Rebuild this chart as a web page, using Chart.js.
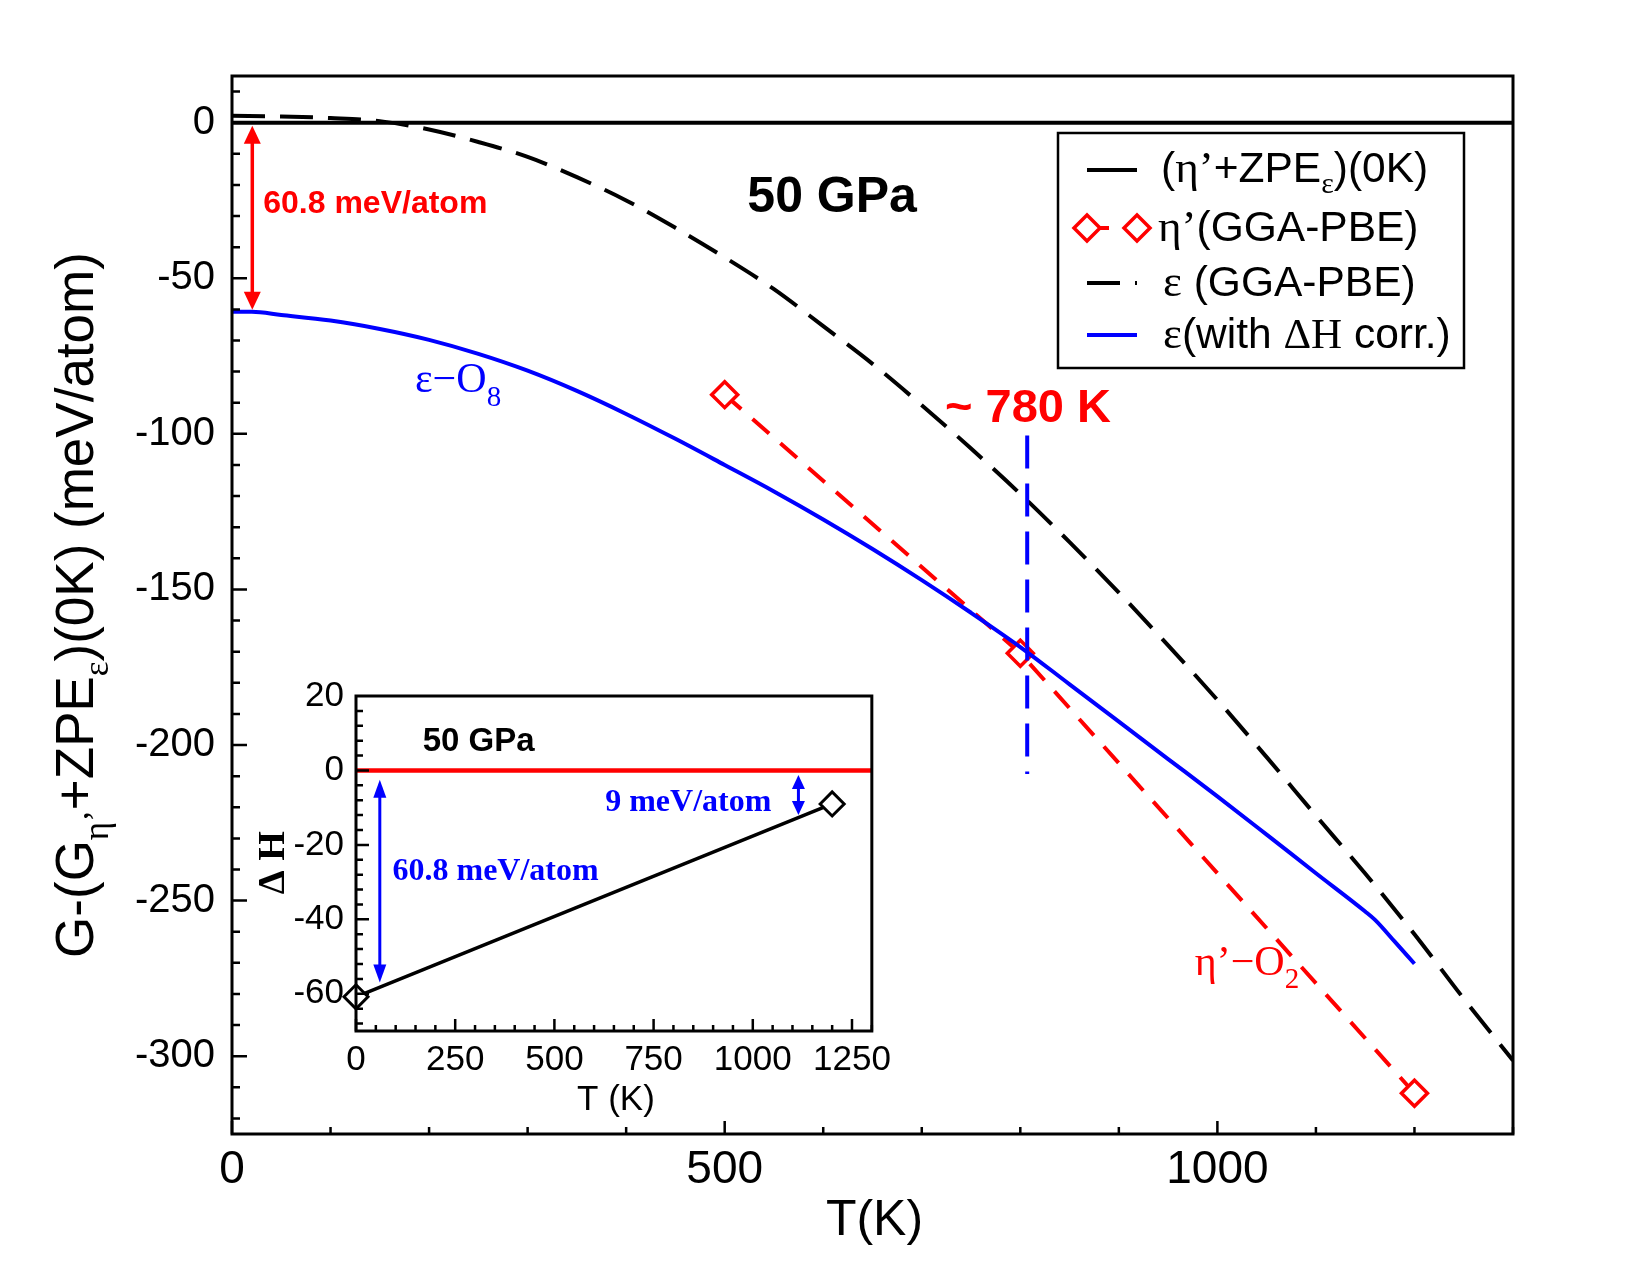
<!DOCTYPE html>
<html>
<head>
<meta charset="utf-8">
<script src="https://cdn.jsdelivr.net/npm/chart.js@4.4.1/dist/chart.umd.min.js"></script>
<style>
  html, body { margin: 0; padding: 0; background: #fff; }
  #wrap { position: relative; width: 1650px; height: 1275px; }
  #main { position: absolute; left: 0; top: 0; }
  #inset { position: absolute; left: 250px; top: 660px; }
</style>
</head>
<body>
<div id="wrap">
  <canvas id="main" width="1650" height="1275"></canvas>
  <canvas id="inset" width="650" height="470"></canvas>
</div>
<script>
// ---- main panel data (T in K, G in meV/atom) ----
const T_ref = [0, 1300];
const G_ref = [0, 0];

const T_eps = [0, 50, 100, 150, 200, 250, 300, 350, 400, 450, 500, 550, 600, 650,
  700, 750, 800, 850, 900, 950, 1000, 1050, 1100, 1150, 1200, 1250, 1300];
const G_eps = [2.2, 2.0, 1.5, 0.5, -2.2, -6.2, -11, -17.5, -25, -33.8, -43.3, -53.5, -65.4, -77.5,
  -90.8, -104.7, -119.3, -134.8, -151, -168, -185.5, -203.9, -222.7, -241.3, -260.8, -281.5, -301.4];

const T_eta = [500, 800, 1200];
const G_eta = [-87.4, -170.5, -311.9];

const T_corr = [0, 20, 50, 100, 150, 200, 250, 300, 350, 400, 450, 500, 550, 600,
  650, 700, 750, 800, 850, 900, 950, 1000, 1050, 1100, 1150, 1160, 1180, 1200];
const G_corr = [-60.8, -60.8, -61.8, -63.6, -66.3, -69.8, -74.3, -79.7, -86.2, -93.6, -101.6, -110, -118.5, -127.5,
  -137, -147, -157.5, -168.5, -180.5, -192.5, -204.5, -216.5, -228.8, -241.2, -253.5, -256.2, -263.2, -270.3];

const T_cross = [807, 807];
const G_cross = [-100.5, -209.3];

const xTicksMain = [0, 500, 1000];
const yTicksMain = [0, -50, -100, -150, -200, -250, -300];

// ---- inset data ----
const T_zeroIn = [0, 1300];
const dH_zero = [0, 0];
const T_dH = [0, 1200];
const dH = [-60.8, -9];

const xTicksInset = [0, 250, 500, 750, 1000, 1250];
const yTicksInset = [20, 0, -20, -40, -60];

const SANS = '"Liberation Sans", Arial, sans-serif';
const SERIF = '"Liberation Serif", "Times New Roman", serif';
const RED = '#ff0000';
const BLUE = '#0000ff';

function pts(xs, ys) {
  return xs.map((x, i) => ({ x: x, y: ys[i] }));
}

// draws a run of text pieces [text, font, dy] one after another
function rich(ctx, parts, x, y, align) {
  let w = 0;
  parts.forEach(p => { ctx.font = p[1]; w += ctx.measureText(p[0]).width; });
  let cx = align === 'center' ? x - w / 2 : x;
  parts.forEach(p => {
    ctx.font = p[1];
    ctx.fillText(p[0], cx, y + (p[2] || 0));
    cx += ctx.measureText(p[0]).width;
  });
}

function vArrow(ctx, x, y1, y2, color, lw, hw, hl) {
  ctx.save();
  ctx.strokeStyle = color; ctx.fillStyle = color; ctx.lineWidth = lw;
  ctx.beginPath(); ctx.moveTo(x, y1 + hl * 0.8); ctx.lineTo(x, y2 - hl * 0.8); ctx.stroke();
  ctx.beginPath(); ctx.moveTo(x, y1); ctx.lineTo(x - hw / 2, y1 + hl); ctx.lineTo(x + hw / 2, y1 + hl); ctx.closePath(); ctx.fill();
  ctx.beginPath(); ctx.moveTo(x, y2); ctx.lineTo(x - hw / 2, y2 - hl); ctx.lineTo(x + hw / 2, y2 - hl); ctx.closePath(); ctx.fill();
  ctx.restore();
}

function diamond(ctx, x, y, r, color, lw) {
  ctx.save();
  ctx.beginPath();
  ctx.moveTo(x - r, y); ctx.lineTo(x, y - r); ctx.lineTo(x + r, y); ctx.lineTo(x, y + r); ctx.closePath();
  ctx.fillStyle = '#fff'; ctx.fill();
  ctx.strokeStyle = color; ctx.lineWidth = lw; ctx.stroke();
  ctx.restore();
}

const noGrid = { display: false, drawTicks: false, tickLength: 0 };

const mainDeco = {
  id: 'mainDeco',
  afterDatasetsDraw(chart) {
    const { ctx, chartArea: a, scales: { x, y } } = chart;
    ctx.save();
    ctx.strokeStyle = '#000';
    ctx.lineWidth = 3;
    ctx.strokeRect(a.left, a.top, a.right - a.left, a.bottom - a.top);

    // inward ticks
    ctx.lineWidth = 2.5;
    ctx.beginPath();
    for (let v = 0; v <= 1300; v += 100) {
      const px = x.getPixelForValue(v);
      const len = v % 500 === 0 ? 13 : 7;
      ctx.moveTo(px, a.bottom); ctx.lineTo(px, a.bottom - len);
    }
    for (let v = -320; v <= 10; v += 10) {
      const py = y.getPixelForValue(v);
      const len = v % 50 === 0 ? 15 : 8;
      ctx.moveTo(a.left, py); ctx.lineTo(a.left + len, py);
    }
    ctx.stroke();

    ctx.textAlign = 'left';
    ctx.textBaseline = 'alphabetic';

    // 60.8 meV/atom arrow
    vArrow(ctx, x.getPixelForValue(20.6), y.getPixelForValue(-1), y.getPixelForValue(-60.1), RED, 3.5, 17, 18);
    ctx.fillStyle = RED;
    ctx.font = 'bold 32px ' + SANS;
    ctx.fillText('60.8 meV/atom', x.getPixelForValue(31.7), y.getPixelForValue(-29.1));

    // 50 GPa
    ctx.fillStyle = '#000';
    ctx.font = 'bold 50px ' + SANS;
    ctx.textAlign = 'center';
    ctx.fillText('50 GPa', x.getPixelForValue(609), y.getPixelForValue(-28.8));
    ctx.textAlign = 'left';

    // ~ 780 K
    ctx.fillStyle = RED;
    ctx.font = 'bold 47px ' + SANS;
    ctx.fillText('~ 780 K', x.getPixelForValue(723.6), y.getPixelForValue(-96.2));

    // curve labels
    ctx.fillStyle = BLUE;
    rich(ctx, [['ε−O', '42px ' + SERIF], ['8', '29px ' + SERIF, 14]],
      x.getPixelForValue(185.7), y.getPixelForValue(-86.4));
    ctx.fillStyle = RED;
    rich(ctx, [['η’−O', '42px ' + SERIF], ['2', '29px ' + SERIF, 13]],
      x.getPixelForValue(977), y.getPixelForValue(-274));

    // legend
    const lx0 = 1087, lx1 = 1137;
    ctx.strokeStyle = '#000';
    ctx.lineWidth = 2.5;
    ctx.strokeRect(1058, 133, 406, 235);
    ctx.fillStyle = '#000';
    ctx.lineWidth = 4;
    ctx.beginPath(); ctx.moveTo(lx0, 170); ctx.lineTo(lx1, 170); ctx.stroke();
    rich(ctx, [['(', '42.5px ' + SANS], ['η’', '45px ' + SERIF], ['+ZPE', '42.5px ' + SANS],
      ['ε', '30px ' + SERIF, 11], [')(0K)', '42.5px ' + SANS]], 1161, 182);

    ctx.strokeStyle = RED;
    ctx.setLineDash([22, 15]);
    ctx.beginPath(); ctx.moveTo(lx0, 228); ctx.lineTo(lx1, 228); ctx.stroke();
    ctx.setLineDash([]);
    diamond(ctx, lx0, 228, 13, RED, 3.5);
    diamond(ctx, lx1, 228, 13, RED, 3.5);
    rich(ctx, [['η’', '45px ' + SERIF], ['(GGA-PBE)', '42.5px ' + SANS]], 1158, 241);

    ctx.strokeStyle = '#000';
    ctx.setLineDash([33, 15]);
    ctx.beginPath(); ctx.moveTo(lx0, 283); ctx.lineTo(lx1, 283); ctx.stroke();
    ctx.setLineDash([]);
    rich(ctx, [['ε', '45px ' + SERIF], [' (GGA-PBE)', '42.5px ' + SANS]], 1163, 296);

    ctx.strokeStyle = BLUE;
    ctx.beginPath(); ctx.moveTo(lx0, 335); ctx.lineTo(lx1, 335); ctx.stroke();
    rich(ctx, [['ε', '45px ' + SERIF], ['(with ', '42.5px ' + SANS], ['ΔH', '43px ' + SERIF],
      [' corr.)', '42.5px ' + SANS]], 1163, 348);

    // axis titles
    ctx.fillStyle = '#000';
    ctx.font = '50px ' + SANS;
    ctx.textAlign = 'center';
    ctx.fillText('T(K)', (a.left + a.right) / 2 + 2, 1235);
    ctx.textAlign = 'left';

    ctx.save();
    ctx.translate(93, (a.top + a.bottom) / 2);
    ctx.rotate(-Math.PI / 2);
    rich(ctx, [['G-(G', '53px ' + SANS], ['η’', '35px ' + SERIF, 15], ['+ZPE', '53px ' + SANS],
      ['ε', '35px ' + SERIF, 15], [')(0K) (meV/atom)', '53px ' + SANS]], 0, 0, 'center');
    ctx.restore();

    ctx.restore();
  }
};

new Chart(document.getElementById('main'), {
  type: 'line',
  data: {
    datasets: [
      { data: pts(T_ref, G_ref), borderColor: '#000', borderWidth: 4, pointRadius: 0, order: 4 },
      { data: pts(T_eps, G_eps), borderColor: '#000', borderWidth: 4, borderDash: [33, 15], pointRadius: 0,
        cubicInterpolationMode: 'monotone', order: 3 },
      { data: pts(T_eta, G_eta), borderColor: RED, borderWidth: 4, borderDash: [22, 15], tension: 0,
        pointStyle: 'rectRot', pointRadius: 13, pointBorderWidth: 3.5, pointBorderColor: RED,
        pointBackgroundColor: '#fff', order: 2 },
      { data: pts(T_cross, G_cross), borderColor: BLUE, borderWidth: 4, borderDash: [33, 15], pointRadius: 0, order: 1 },
      { data: pts(T_corr, G_corr), borderColor: BLUE, borderWidth: 4, pointRadius: 0,
        cubicInterpolationMode: 'monotone', order: 0 }
    ]
  },
  options: {
    responsive: false,
    animation: false,
    devicePixelRatio: 1,
    layout: { padding: { left: 0, top: 76, right: 137, bottom: 0 } },
    plugins: { legend: { display: false }, tooltip: { enabled: false } },
    scales: {
      x: {
        type: 'linear', min: 0, max: 1300,
        grid: noGrid, border: { display: false },
        afterBuildTicks: s => { s.ticks = xTicksMain.map(v => ({ value: v })); },
        afterFit: s => { s.height = 141; },
        ticks: { padding: 9, color: '#000', font: { family: SANS, size: 46 }, callback: v => String(v) }
      },
      y: {
        type: 'linear', min: -325, max: 15,
        grid: noGrid, border: { display: false },
        afterBuildTicks: s => { s.ticks = yTicksMain.map(v => ({ value: v })); },
        afterFit: s => { s.width = 232; },
        ticks: { padding: 17, color: '#000', font: { family: SANS, size: 40 }, callback: v => String(v) }
      }
    }
  },
  plugins: [mainDeco]
});

const insetDeco = {
  id: 'insetDeco',
  afterDatasetsDraw(chart) {
    const { ctx, chartArea: a, scales: { x, y } } = chart;
    ctx.save();
    ctx.strokeStyle = '#000';
    ctx.lineWidth = 3;
    ctx.strokeRect(a.left, a.top, a.right - a.left, a.bottom - a.top);
    ctx.lineWidth = 2.5;
    ctx.beginPath();
    for (let v = 0; v <= 1300; v += 50) {
      const px = x.getPixelForValue(v);
      const len = v % 250 === 0 ? 12 : 6;
      ctx.moveTo(px, a.bottom); ctx.lineTo(px, a.bottom - len);
    }
    for (let v = -68; v <= 16; v += 4) {
      const py = y.getPixelForValue(v);
      const len = v % 20 === 0 ? 13 : 7;
      ctx.moveTo(a.left, py); ctx.lineTo(a.left + len, py);
    }
    ctx.stroke();

    ctx.textAlign = 'left';
    ctx.textBaseline = 'alphabetic';
    ctx.fillStyle = '#000';
    ctx.font = 'bold 33px ' + SANS;
    ctx.fillText('50 GPa', x.getPixelForValue(168), y.getPixelForValue(5.1));

    vArrow(ctx, x.getPixelForValue(60), y.getPixelForValue(-2.5), y.getPixelForValue(-57), BLUE, 3, 13, 18);
    vArrow(ctx, x.getPixelForValue(1115), y.getPixelForValue(-1.2), y.getPixelForValue(-12), BLUE, 3, 13, 14);

    ctx.fillStyle = BLUE;
    ctx.font = 'bold 32px ' + SERIF;
    ctx.fillText('9 meV/atom', x.getPixelForValue(628), y.getPixelForValue(-10.9));
    ctx.fillText('60.8 meV/atom', x.getPixelForValue(92), y.getPixelForValue(-29.4));

    ctx.fillStyle = '#000';
    ctx.font = '35px ' + SANS;
    ctx.textAlign = 'center';
    ctx.fillText('T (K)', (a.left + a.right) / 2 + 2, a.bottom + 79);

    ctx.save();
    ctx.translate(a.left - 72, y.getPixelForValue(-24.8));
    ctx.rotate(-Math.PI / 2);
    ctx.font = 'bold 38px ' + SERIF;
    ctx.fillText('Δ H', 0, 0);
    ctx.restore();
    ctx.restore();
  }
};

new Chart(document.getElementById('inset'), {
  type: 'line',
  data: {
    datasets: [
      { data: pts(T_zeroIn, dH_zero), borderColor: RED, borderWidth: 4.5, pointRadius: 0, order: 1 },
      { data: pts(T_dH, dH), borderColor: '#000', borderWidth: 3.5, tension: 0,
        pointStyle: 'rectRot', pointRadius: 12, pointBorderWidth: 3, pointBorderColor: '#000',
        pointBackgroundColor: '#fff', order: 0 }
    ]
  },
  options: {
    responsive: false,
    animation: false,
    devicePixelRatio: 1,
    clip: false,
    layout: { padding: { left: 0, top: 36, right: 28, bottom: 0 } },
    plugins: { legend: { display: false }, tooltip: { enabled: false } },
    scales: {
      x: {
        type: 'linear', min: 0, max: 1300,
        grid: noGrid, border: { display: false },
        afterBuildTicks: s => { s.ticks = xTicksInset.map(v => ({ value: v })); },
        afterFit: s => { s.height = 99; },
        ticks: { padding: 8, color: '#000', font: { family: SANS, size: 35 }, callback: v => String(v) }
      },
      y: {
        type: 'linear', min: -70, max: 20,
        grid: noGrid, border: { display: false },
        afterBuildTicks: s => { s.ticks = yTicksInset.map(v => ({ value: v })); },
        afterFit: s => { s.width = 106; },
        ticks: { padding: 12, color: '#000', font: { family: SANS, size: 35 }, callback: v => String(v) }
      }
    }
  },
  plugins: [insetDeco]
});
</script>
</body>
</html>
